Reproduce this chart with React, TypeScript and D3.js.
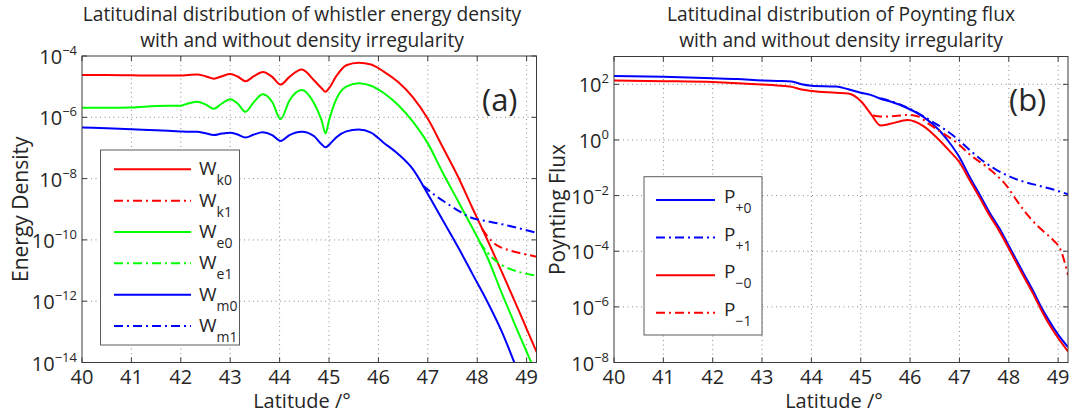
import React from "react";
import * as d3 from "d3";

const WIDTH = 1089;
const HEIGHT = 417;
const FONT = "'Open Sans', 'DejaVu Sans', sans-serif";
const TEXT = "#262626";

// ---------- Panel (a): whistler energy density ----------
const latA = [40, 40.5, 41, 41.5, 42, 42.15, 42.33, 42.5, 42.67, 42.83, 43.0, 43.15, 43.31, 43.48, 43.66, 43.85, 44.02, 44.2, 44.45, 44.7, 44.85, 44.93, 45.0, 45.15, 45.35, 45.6, 45.85, 46.1, 46.4, 46.7, 47.0, 47.3, 47.6, 47.9, 48.2, 48.5, 48.8, 49.0, 49.2];
const wk0 = [2.4e-5, 2.4e-5, 2.34e-5, 2.29e-5, 2.29e-5, 2.4e-5, 2.51e-5, 2.19e-5, 1.82e-5, 2.19e-5, 2.57e-5, 2.14e-5, 1.51e-5, 2.19e-5, 3.02e-5, 2.09e-5, 1.17e-5, 2.09e-5, 3.63e-5, 1.58e-5, 8.91e-6, 6.76e-6, 8.91e-6, 2.24e-5, 5.01e-5, 6.03e-5, 5.25e-5, 3.16e-5, 1.41e-5, 4.47e-6, 8.91e-7, 1.07e-7, 1.26e-8, 1.12e-9, 1.05e-10, 8.91e-12, 7.08e-13, 1.26e-13, 2.24e-14];
const we0 = [2.04e-6, 2.04e-6, 2.09e-6, 2.34e-6, 2.4e-6, 2.82e-6, 3.24e-6, 2.63e-6, 1.91e-6, 2.82e-6, 3.89e-6, 2.82e-6, 1.51e-6, 3.16e-6, 5.62e-6, 3.16e-6, 8.71e-7, 3.55e-6, 7.76e-6, 2.82e-6, 7.94e-7, 2.95e-7, 7.94e-7, 3.98e-6, 1.0e-5, 1.29e-5, 1.07e-5, 6.31e-6, 2.51e-6, 7.08e-7, 1.41e-7, 1.58e-8, 2.0e-9, 2.51e-10, 2.82e-11, 1.78e-12, 1.26e-13, 2.24e-14, 3.98e-15];
const wm0 = [4.68e-7, 4.37e-7, 4.07e-7, 3.8e-7, 3.47e-7, 3.39e-7, 3.39e-7, 3.02e-7, 2.63e-7, 2.95e-7, 3.16e-7, 2.75e-7, 2.19e-7, 2.75e-7, 3.24e-7, 2.63e-7, 1.7e-7, 2.63e-7, 3.39e-7, 2.4e-7, 1.32e-7, 1.05e-7, 1.26e-7, 2.24e-7, 3.47e-7, 3.98e-7, 3.16e-7, 1.51e-7, 6.31e-8, 2.0e-8, 3.16e-9, 4.47e-10, 6.31e-11, 7.94e-12, 1.0e-12, 1.0e-13, 6.31e-15, 1.0e-15, 1.58e-16];

// curves with the density irregularity, from where they leave the undisturbed ones
const latK1 = [48.1, 48.2, 48.3, 48.4, 48.5, 48.7, 48.9, 49.2];
const wk1 = [2.29e-10, 1.35e-10, 8.91e-11, 6.61e-11, 5.5e-11, 4.37e-11, 3.63e-11, 2.82e-11];
const latE1 = [48.05, 48.2, 48.35, 48.5, 48.7, 48.9, 49.2];
const we1 = [8.32e-11, 3.98e-11, 2.24e-11, 1.51e-11, 1.07e-11, 8.51e-12, 6.76e-12];
const latM1 = [46.9, 47.15, 47.4, 47.65, 47.87, 48.2, 48.5, 48.85, 49.2];
const wm1 = [5.89e-9, 2.82e-9, 1.51e-9, 8.32e-10, 5.37e-10, 4.07e-10, 3.24e-10, 2.4e-10, 1.7e-10];

// ---------- Panel (b): Poynting flux ----------
const latP = [40, 41, 42, 42.5, 43, 43.3, 43.6, 43.8, 44.0, 44.5, 44.75, 45.0, 45.2, 45.4, 45.6, 45.95, 46.27, 46.6, 46.8, 47.0, 47.2, 47.42, 47.6, 47.8, 48.06, 48.3, 48.5, 48.64, 48.8, 49.0, 49.2];
const pPlus0 = [200, 186, 166, 155, 138, 132, 126, 100, 89.1, 83.2, 66.1, 50.1, 41.7, 30.2, 24.0, 13.8, 6.76, 2.14, 0.794, 0.24, 0.0501, 0.01, 2.63e-3, 7.08e-4, 1.0e-4, 1.58e-5, 3.55e-6, 1.12e-6, 3.55e-7, 1.0e-7, 3.55e-8];
const pMinus0 = [138, 130, 120, 110, 98, 91, 81, 64.6, 57.5, 50.1, 46.8, 25.1, 8.91, 3.31, 3.8, 5.25, 3.16, 0.955, 0.398, 0.158, 0.038, 7.94e-3, 2.09e-3, 5.62e-4, 7.94e-5, 1.26e-5, 2.82e-6, 8.91e-7, 2.69e-7, 7.59e-8, 2.51e-8];
const latP1 = [45.4, 45.6, 45.95, 46.2, 46.45, 46.7, 46.95, 47.2, 47.45, 47.7, 48.0, 48.3, 48.6, 48.9, 49.2];
const pPlus1 = [31.6, 25.1, 14.5, 8.32, 4.57, 2.4, 1.12, 0.447, 0.191, 0.0955, 0.0501, 0.0316, 0.0229, 0.0166, 0.0112];
const latM1P = [45.25, 45.4, 45.7, 45.95, 46.15, 46.4, 46.7, 46.95, 47.22, 47.56, 47.97, 48.17, 48.44, 48.71, 48.9, 49.05, 49.2];
const pMinus1 = [7.59, 6.92, 7.24, 7.94, 7.08, 3.55, 1.58, 0.794, 0.288, 0.105, 0.0209, 6.31e-3, 1.51e-3, 5.01e-4, 2.51e-4, 1.12e-4, 1.41e-5];

const latTicks = [40, 41, 42, 43, 44, 45, 46, 47, 48, 49];
const expTicksA = [-14, -12, -10, -8, -6, -4];
const expTicksB = [-8, -6, -4, -2, 0, 2];

const RED = "#ff0000";
const GREEN = "#00ff00";
const BLUE = "#0000ff";
const DASHDOT = "9,4,2,4";

type Series = {
  lat: number[];
  val: number[];
  color: string;
  dashed: boolean;
  main: string;
  sub: string;
};

const seriesA: Series[] = [
  { lat: latA, val: wk0, color: RED, dashed: false, main: "W", sub: "k0" },
  { lat: latK1, val: wk1, color: RED, dashed: true, main: "W", sub: "k1" },
  { lat: latA, val: we0, color: GREEN, dashed: false, main: "W", sub: "e0" },
  { lat: latE1, val: we1, color: GREEN, dashed: true, main: "W", sub: "e1" },
  { lat: latA, val: wm0, color: BLUE, dashed: false, main: "W", sub: "m0" },
  { lat: latM1, val: wm1, color: BLUE, dashed: true, main: "W", sub: "m1" },
];

const seriesB: Series[] = [
  { lat: latP, val: pPlus0, color: BLUE, dashed: false, main: "P", sub: "+0" },
  { lat: latP1, val: pPlus1, color: BLUE, dashed: true, main: "P", sub: "+1" },
  { lat: latP, val: pMinus0, color: RED, dashed: false, main: "P", sub: "\u22120" },
  { lat: latM1P, val: pMinus1, color: RED, dashed: true, main: "P", sub: "\u22121" },
];

type LegendBox = {
  x: number;
  y: number;
  w: number;
  h: number;
  firstRow: number;
  rowStep: number;
  lineX0: number;
  lineX1: number;
  textX: number;
  mainDy: number;
  subDy: number;
};

type PanelProps = {
  id: string;
  left: number;
  right: number;
  top: number;
  bottom: number;
  yDomain: [number, number];
  expTicks: number[];
  series: Series[];
  titleLines: string[];
  titleX: number;
  xLabelX: number;
  yLabel: string;
  yLabelX: number;
  tag: string;
  tagX: number;
  legend: LegendBox;
};

function Panel(p: PanelProps) {
  const x = d3.scaleLinear().domain([40, 49.2]).range([p.left, p.right]);
  const y = d3.scaleLog().domain(p.yDomain).range([p.bottom, p.top]);
  const line = d3
    .line<[number, number]>()
    .x((d) => x(d[0]))
    .y((d) => y(d[1]))
    .curve(d3.curveMonotoneX);
  const tickLen = 5;
  const midY = (p.top + p.bottom) / 2;
  const lg = p.legend;

  return (
    <g>
      <defs>
        <clipPath id={`clip-${p.id}`}>
          <rect x={p.left} y={p.top} width={p.right - p.left} height={p.bottom - p.top} />
        </clipPath>
      </defs>
      <rect x={p.left} y={p.top} width={p.right - p.left} height={p.bottom - p.top} fill="#fff" />

      {/* dotted grid */}
      {latTicks
        .filter((t) => t > 40)
        .map((t) => (
          <line key={`gx${t}`} x1={x(t)} x2={x(t)} y1={p.top} y2={p.bottom} stroke="#8a8a8a" strokeWidth={1} strokeDasharray="1,3.5" />
        ))}
      {p.expTicks.map((e) => {
        const yy = y(Math.pow(10, e));
        if (Math.abs(yy - p.bottom) < 1 || Math.abs(yy - p.top) < 1) return null;
        return <line key={`gy${e}`} x1={p.left} x2={p.right} y1={yy} y2={yy} stroke="#8a8a8a" strokeWidth={1} strokeDasharray="1,3.5" />;
      })}

      {/* curves */}
      <g clipPath={`url(#clip-${p.id})`}>
        {p.series.map((s, i) => (
          <path
            key={i}
            d={line(s.lat.map((la, k) => [la, s.val[k]] as [number, number])) || ""}
            fill="none"
            stroke={s.color}
            strokeWidth={2}
            strokeDasharray={s.dashed ? DASHDOT : undefined}
            strokeLinejoin="round"
          />
        ))}
      </g>

      {/* axes box and ticks */}
      <rect x={p.left} y={p.top} width={p.right - p.left} height={p.bottom - p.top} fill="none" stroke="#3a3a3a" strokeWidth={1} />
      {latTicks.map((t) => (
        <g key={`tx${t}`}>
          <line x1={x(t)} x2={x(t)} y1={p.bottom} y2={p.bottom - tickLen} stroke="#3a3a3a" />
          <line x1={x(t)} x2={x(t)} y1={p.top} y2={p.top + tickLen} stroke="#3a3a3a" />
          <text x={x(t)} y={p.bottom + 21} textAnchor="middle" fontFamily={FONT} fontSize={20} fill={TEXT}>
            {t}
          </text>
        </g>
      ))}
      {p.expTicks.map((e) => {
        const yy = y(Math.pow(10, e));
        return (
          <g key={`ty${e}`}>
            <line x1={p.left} x2={p.left + tickLen} y1={yy} y2={yy} stroke="#3a3a3a" />
            <line x1={p.right} x2={p.right - tickLen} y1={yy} y2={yy} stroke="#3a3a3a" />
            <text x={p.left - 5} y={yy + 8} textAnchor="end" fontFamily={FONT} fontSize={20} fill={TEXT}>
              <tspan>10</tspan>
              <tspan dy={-9} fontSize={13}>
                {e < 0 ? `\u2212${-e}` : `${e}`}
              </tspan>
            </text>
          </g>
        );
      })}

      {/* titles and labels */}
      {p.titleLines.map((t, i) => (
        <text key={`tt${i}`} x={p.titleX} y={20.5 + i * 26.3} textAnchor="middle" fontFamily={FONT} fontSize={19.2} fill={TEXT}>
          {t}
        </text>
      ))}
      <text x={p.xLabelX} y={408} textAnchor="middle" fontFamily={FONT} fontSize={20} fill={TEXT}>
        Latitude /°
      </text>
      <text
        transform={`translate(${p.yLabelX},${midY}) rotate(-90)`}
        textAnchor="middle"
        fontFamily={FONT}
        fontSize={21}
        fill={TEXT}
      >
        {p.yLabel}
      </text>
      <text x={p.tagX} y={111} fontFamily={FONT} fontSize={31} fill={TEXT}>
        {p.tag}
      </text>

      {/* legend */}
      <rect x={lg.x} y={lg.y} width={lg.w} height={lg.h} fill="#fff" stroke="#5a5a5a" strokeWidth={1} />
      {p.series.map((s, i) => {
        const ly = lg.firstRow + i * lg.rowStep;
        return (
          <g key={`lg${i}`}>
            <line
              x1={lg.lineX0}
              x2={lg.lineX1}
              y1={ly}
              y2={ly}
              stroke={s.color}
              strokeWidth={2}
              strokeDasharray={s.dashed ? DASHDOT : undefined}
            />
            <text x={lg.textX} y={ly + lg.mainDy} fontFamily={FONT} fontSize={19} fill={TEXT}>
              <tspan>{s.main}</tspan>
              <tspan dy={lg.subDy} fontSize={14}>
                {s.sub}
              </tspan>
            </text>
          </g>
        );
      })}
    </g>
  );
}

export default function App() {
  return (
    <svg width={WIDTH} height={HEIGHT} viewBox={`0 0 ${WIDTH} ${HEIGHT}`} style={{ display: "block", position: "absolute", left: 0, top: 0, background: "#fff" }}>
      <rect x={0} y={0} width={WIDTH} height={HEIGHT} fill="#fff" />
      <Panel
        id="a"
        left={82}
        right={536.5}
        top={56}
        bottom={362.5}
        yDomain={[1e-14, 1e-4]}
        expTicks={expTicksA}
        series={seriesA}
        titleLines={["Latitudinal distribution of whistler energy density", "with and without density irregularity"]}
        titleX={302}
        xLabelX={302}
        yLabel="Energy Density"
        yLabelX={28}
        tag="(a)"
        tagX={482}
        legend={{
          x: 100.5,
          y: 150,
          w: 139,
          h: 195,
          firstRow: 169.3,
          rowStep: 31.35,
          lineX0: 114,
          lineX1: 191,
          textX: 199,
          mainDy: 6,
          subDy: 10,
        }}
      />
      <Panel
        id="b"
        left={614}
        right={1068}
        top={56.5}
        bottom={362.5}
        yDomain={[1e-8, 1e3]}
        expTicks={expTicksB}
        series={seriesB}
        titleLines={["Latitudinal distribution of Poynting flux", "with and without density irregularity"]}
        titleX={841}
        xLabelX={834}
        yLabel="Poynting Flux"
        yLabelX={564.5}
        tag="(b)"
        tagX={1009}
        legend={{
          x: 644,
          y: 176.7,
          w: 118,
          h: 158.3,
          firstRow: 200,
          rowStep: 37.6,
          lineX0: 656,
          lineX1: 715,
          textX: 724,
          mainDy: 3,
          subDy: 10,
        }}
      />
    </svg>
  );
}
